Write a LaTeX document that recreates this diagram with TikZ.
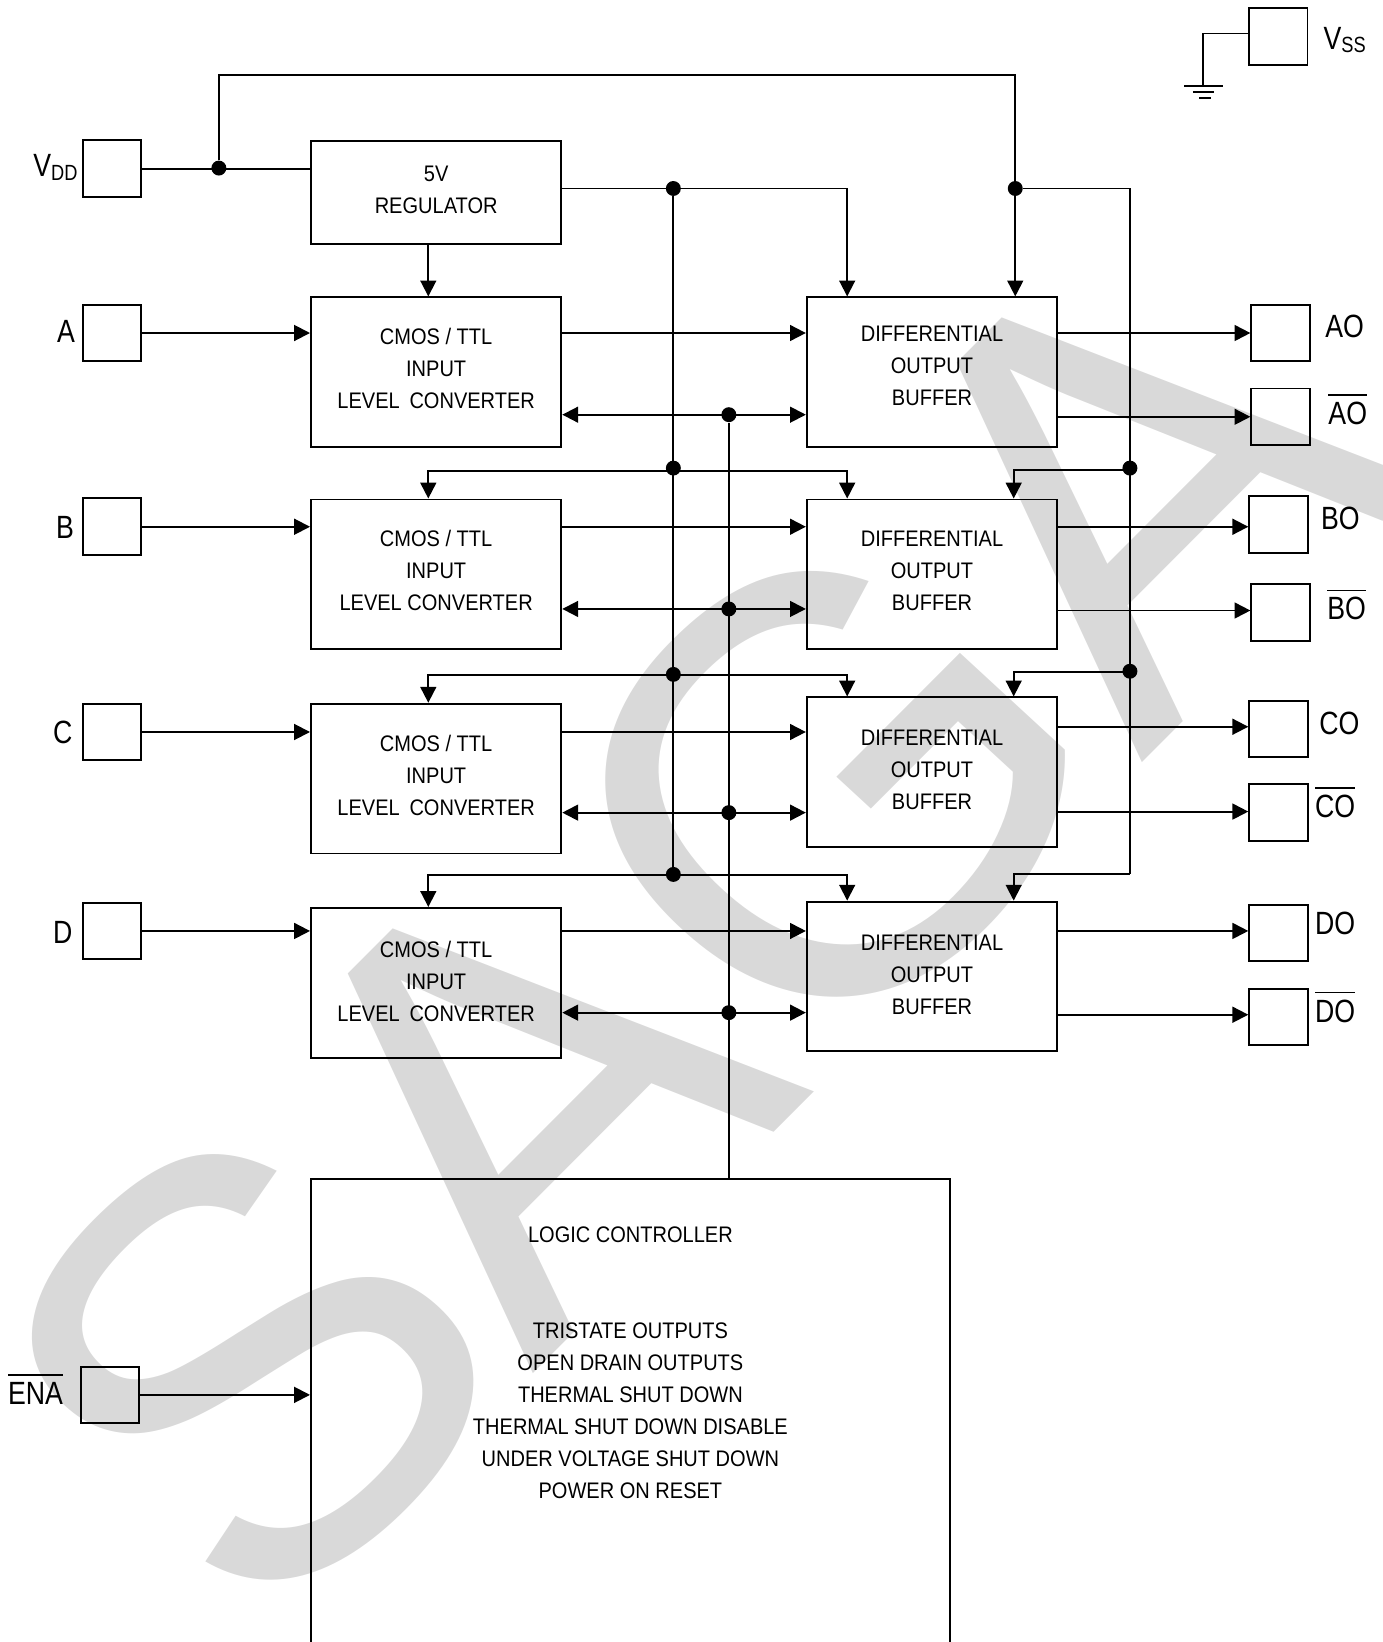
\documentclass[tikz,border=0pt]{standalone}
\usepackage{fontspec}
\setmainfont[FakeStretch=0.89]{Liberation Sans}
\newfontfamily\padfont[FakeStretch=0.83]{Liberation Sans}
\newfontfamily\markfont{Liberation Sans}
\usepackage{tikz}
\usetikzlibrary{arrows.meta,positioning}

\definecolor{markgray}{RGB}{217,217,217}
\newcommand{\barred}[1]{\vbox{\hrule height 1pt \kern 3.5pt \hbox{#1}}}
\newcommand{\subbed}[2]{#1\raisebox{-2pt}{\fontsize{12.5}{12.5}\selectfont #2}}

\tikzset{
  blockbox/.style={draw,line width=1.1pt,inner sep=0pt,align=center,font=\fontsize{12.8}{18.2}\selectfont},
  convbox/.style={blockbox,minimum width=142.4pt,minimum height=85.2pt},
  diffbox/.style={blockbox,minimum width=142.4pt,minimum height=85.2pt},
  padbox/.style={draw,line width=1.1pt,inner sep=0pt,minimum width=33.4pt,minimum height=32.2pt},
  padlabel/.style={anchor=base,inner sep=0pt,font=\padfont\fontsize{18.3}{20}\selectfont},
  junction/.style={circle,fill=black,inner sep=0pt,minimum size=8.5pt},
  wire/.style={line width=1.1pt},
  feed/.style={wire,-{Triangle[length=9pt,width=9pt]}},
  both/.style={wire,{Triangle[length=9pt,width=9pt]}-{Triangle[length=9pt,width=9pt]}}
}

\begin{document}
\begin{tikzpicture}[x=0.020939cm,y=-0.020939cm]
\useasboundingbox (0,0) rectangle (1320,1568);

% watermark
\node[anchor=base west,inner sep=0pt,xscale=1.04,rotate=46.2,text=markgray,font=\markfont\fontsize{335}{335}\selectfont] (saga) at (248,1574) {S\kern-8pt A\kern-1pt G\kern-2pt A};

% pads
\foreach \nm/\x/\y in {vdd/107/161,a/107/318,b/107/503,c/107/699,d/107/889,ena/105/1332,
    vss/1220.5/35,ao/1223/318,aob/1223/398,bo/1221/501,bob/1223/585,co/1221/696,cob/1221/776,do/1221/891,dob/1221/971}
  \node[padbox] (pad\nm) at (\x,\y) {};

% pad labels
\foreach \nm/\x/\y/\txt in {a/63/327/A,b/62/514/B,c/60/710/C,d/60/901/D,
    ao/1284/322/AO,aob/1287/405/\barred{AO},bo/1280/506/BO,bob/1286/592/\barred{BO},
    co/1279/701/CO,cob/1275/781/\barred{CO},do/1275/892/DO,dob/1275/976/\barred{DO},
    vdd/53/169/{\subbed{V}{DD}},vss/1284/47/{\subbed{V}{SS}},ena/34/1341/\barred{ENA}}
  \node[padlabel] (lb\nm) at (\x,\y) {\txt};

% blocks
\node[blockbox,minimum width=142.4pt,minimum height=58.4pt,text depth=3.6pt] (reg) at (416.5,184) {5V\\REGULATOR};
\foreach \r/\x/\y/\dep/\gap in {a/416.5/355.5/4.2pt/2.4pt,b/416.5/548.5/4.2pt/0pt,c/416.5/743.5/4.2pt/2.4pt,d/416.5/938.5/1.5pt/2.4pt}
  \node[convbox,text depth=\dep] (conv\r) at (\x,\y) {CMOS / TTL\\INPUT\\LEVEL\hspace{\gap} CONVERTER};
\foreach \r/\y/\dep in {a/355.5/7pt,b/548.5/4.2pt,c/737.5/3pt,d/932.5/2pt}
  \node[diffbox,text depth=\dep] (diff\r) at (890,\y) {DIFFERENTIAL\\OUTPUT\\BUFFER};
\node[blockbox,minimum width=363.4pt,minimum height=312pt,text depth=103pt] (ctl) at (602,1388)
  {LOGIC CONTROLLER\\[36.4pt]TRISTATE OUTPUTS\\OPEN DRAIN OUTPUTS\\THERMAL SHUT DOWN\\THERMAL SHUT DOWN DISABLE\\UNDER VOLTAGE SHUT DOWN\\POWER ON RESET};

% helper columns and junctions
\coordinate (dropl) at (409,0);
\coordinate (dropm) at (809,0);
\coordinate (dropr) at (968,0);
\coordinate (topl) at (209,72);
\coordinate (railend) at (1079,835);
\node[junction] (vddtap) at (209,160.5) {};
\node[junction] (regtap) at (643,180) {};
\node[junction] (suptap) at (969.5,180) {};

% supply
\draw[wire] (padvdd.east) -- (reg.west |- padvdd.east);
\draw[feed] (vddtap) -- (topl) -| (suptap |- diffa.north);
\draw[feed] (dropl |- reg.south) -- (dropl |- conva.north);
\draw[feed] (reg.east |- regtap) -- (regtap) -| (dropm |- diffa.north);
\draw[wire] (suptap) -| (railend);
\draw[feed] (railend) -| (dropr |- diffd.north);
\foreach \r/\yd/\yw in {b/447/450,c/644/645,d/835/836} {
  \node[junction] (rail\r) at (643,\yd) {};
  \coordinate (tee\r) at (643,\yw);
  \draw[feed] (tee\r) -| (dropl |- conv\r.north);
  \draw[feed] (tee\r) -| (dropm |- diff\r.north);
}
\draw[wire] (regtap) -- (raild);
\foreach \r/\yd/\yw in {b/447/449,c/641/642} {
  \node[junction] (railr\r) at (1079,\yd) {};
  \coordinate (teer\r) at (1079,\yw);
  \draw[feed] (teer\r) -| (dropr |- diff\r.north);
}

% signal path
\foreach \r in {a,b,c,d} {
  \draw[feed] (pad\r.east) -- (conv\r.west |- pad\r.east);
  \draw[feed] (conv\r.east |- pad\r.east) -- (diff\r.west |- pad\r.east);
}
\foreach \r/\o/\dy in {a/ao/0pt,a/aob/0pt,b/bo/-1.2pt,b/bob/1.2pt,c/co/1.2pt,c/cob/0.6pt,d/do/1.2pt,d/dob/1.2pt}
  \draw[feed] ([yshift=\dy]diff\r.east |- pad\o.west) -- ([yshift=\dy]pad\o.west);

% enable bus
\foreach \r/\y in {a/396,b/581.5,c/776,d/967} {
  \node[junction] (en\r) at (696,\y) {};
  \draw[both] (conv\r.east |- en\r) -- (diff\r.west |- en\r);
}
\draw[wire] (ena) -- (ena |- ctl.north);
\draw[feed] (padena.east) -- (ctl.west |- padena.east);

% ground
\coordinate (gndtop) at (1149,32);
\coordinate (gnd) at (1149,82);
\draw[wire] (padvss.west |- gndtop) -- (gndtop) -- (gnd);
\draw[wire] (gnd) ++(-18,0) -- ++(37,0);
\draw[wire] (gnd) ++(-10,6) -- ++(20,0);
\draw[wire] (gnd) ++(-4,11.5) -- ++(11,0);
\end{tikzpicture}
\end{document}
